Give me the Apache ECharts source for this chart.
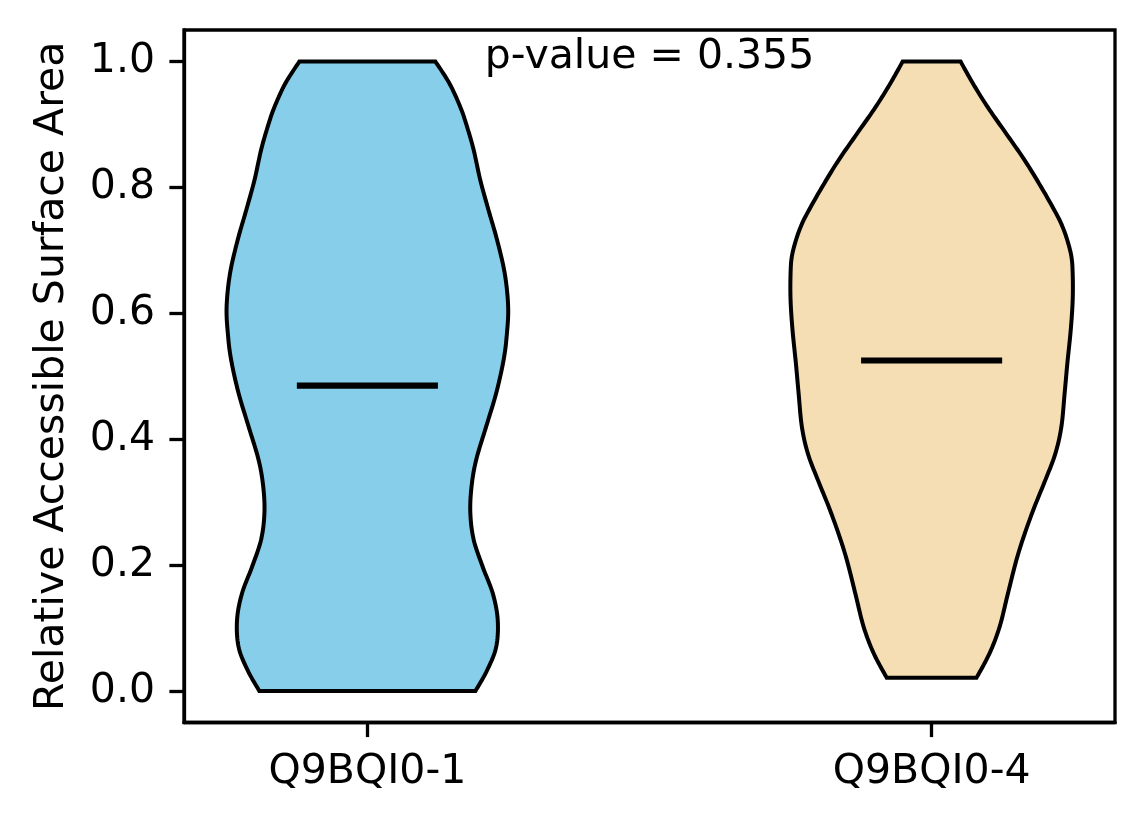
<!DOCTYPE html>
<html>
<head>
<meta charset="utf-8">
<script src="https://cdn.jsdelivr.net/npm/echarts@6/dist/echarts.min.js"></script>
<style>
  html, body { margin: 0; padding: 0; background: #ffffff; }
  #chart { width: 1144px; height: 824px; }
</style>
</head>
<body>
<div id="chart"></div>
<script>
// ---- data ----
const categories = ['Q9BQI0-1', 'Q9BQI0-4'];
const positions = [1, 2];

// Violin 1 (Q9BQI0-1): sample values (bottom to top) and relative density (1 = widest)
const violin1Values  = [0.000, 0.033, 0.070, 0.113, 0.155, 0.197, 0.240, 0.282, 0.324, 0.367, 0.420, 0.473, 0.525, 0.565, 0.610, 0.663, 0.716, 0.763, 0.811, 0.859, 0.896, 0.927, 0.965, 1.000];
const violin1Density = [0.766, 0.849, 0.913, 0.924, 0.889, 0.818, 0.754, 0.730, 0.738, 0.771, 0.842, 0.913, 0.965, 0.988, 0.998, 0.974, 0.920, 0.860, 0.801, 0.754, 0.707, 0.660, 0.582, 0.482];

// Violin 2 (Q9BQI0-4)
const violin2Values  = [0.021, 0.060, 0.102, 0.155, 0.208, 0.250, 0.293, 0.335, 0.377, 0.420, 0.473, 0.520, 0.573, 0.621, 0.663, 0.690, 0.716, 0.738, 0.758, 0.800, 0.843, 0.885, 0.927, 0.965, 1.000];
const violin2Density = [0.318, 0.411, 0.482, 0.541, 0.601, 0.660, 0.730, 0.806, 0.877, 0.920, 0.943, 0.962, 0.986, 1.000, 1.000, 0.991, 0.962, 0.927, 0.884, 0.778, 0.660, 0.530, 0.399, 0.293, 0.205];

const medians = [0.485, 0.525];
const fillColors = ['#87CEEB', '#F5DEB3'];
const yTicks = [0.0, 0.2, 0.4, 0.6, 0.8, 1.0];
const yName = 'Relative Accessible Surface Area';
const pValueLabel = 'p-value = 0.355';

// ---- rendering ----
const FONT = 'DejaVu Sans';
const FS = 41;
const violinHalfWidth = 0.25;

function catmullRom(pts, steps) {
  const out = [];
  const n = pts.length;
  for (let i = 0; i < n - 1; i++) {
    const p0 = pts[Math.max(i - 1, 0)];
    const p1 = pts[i];
    const p2 = pts[i + 1];
    const p3 = pts[Math.min(i + 2, n - 1)];
    for (let s = 0; s < steps; s++) {
      const t = s / steps, t2 = t * t, t3 = t2 * t;
      const f = (a, b, c, d) => 0.5 * ((2 * b) + (-a + c) * t + (2 * a - 5 * b + 4 * c - d) * t2 + (-a + 3 * b - 3 * c + d) * t3);
      out.push([f(p0[0], p1[0], p2[0], p3[0]), f(p0[1], p1[1], p2[1], p3[1])]);
    }
  }
  out.push(pts[n - 1]);
  return out;
}

function makeViolinRender(values, density, pos, median, color) {
  return function (params, api) {
    const left = values.map((v, i) => api.coord([pos - violinHalfWidth * density[i], v]));
    const right = values.map((v, i) => api.coord([pos + violinHalfWidth * density[i], v]));
    const leftSmooth = catmullRom(left, 12);
    const rightSmooth = catmullRom(right, 12).reverse();
    const poly = leftSmooth.concat(rightSmooth);
    const m0 = api.coord([pos - violinHalfWidth / 2, median]);
    const m1 = api.coord([pos + violinHalfWidth / 2, median]);
    return {
      type: 'group',
      children: [
        {
          type: 'polygon',
          shape: { points: poly },
          style: { fill: color, stroke: '#000000', lineWidth: 4, lineJoin: 'miter' }
        },
        {
          type: 'line',
          shape: { x1: m0[0], y1: m0[1], x2: m1[0], y2: m1[1] },
          style: { stroke: '#000000', lineWidth: 6.2 }
        }
      ]
    };
  };
}

const chart = echarts.init(document.getElementById('chart'), null, { renderer: 'canvas' });

const option = {
  animation: false,
  backgroundColor: '#ffffff',
  grid: {
    left: 184, top: 30, width: 931, height: 692.5,
    show: true, borderColor: '#000000', borderWidth: 3.3, backgroundColor: 'transparent'
  },
  xAxis: {
    type: 'value',
    min: 0.675, max: 2.325,
    splitLine: { show: false },
    axisLine: { show: true, onZero: false, lineStyle: { color: '#000000', width: 3.3 } },
    axisTick: { show: true, length: 14.6, lineStyle: { color: '#000000', width: 3.3 }, customValues: positions },
    axisLabel: {
      show: true, margin: 29, color: '#000000', fontFamily: FONT, fontSize: FS,
      customValues: positions,
      formatter: function (v) { const i = positions.indexOf(v); return i >= 0 ? categories[i] : ''; }
    }
  },
  yAxis: {
    type: 'value',
    min: -0.05, max: 1.05,
    splitLine: { show: false },
    axisLine: { show: true, onZero: false, lineStyle: { color: '#000000', width: 3.3 } },
    axisTick: { show: true, length: 14.6, lineStyle: { color: '#000000', width: 3.3 }, customValues: yTicks },
    axisLabel: {
      show: true, margin: 29, color: '#000000', fontFamily: FONT, fontSize: FS,
      customValues: yTicks,
      formatter: function (v) { return v.toFixed(1); }
    },
    name: yName,
    nameLocation: 'middle',
    nameGap: 111,
    nameTextStyle: { color: '#000000', fontFamily: FONT, fontSize: FS }
  },
  series: [
    {
      type: 'custom',
      coordinateSystem: 'cartesian2d',
      data: [[positions[0], medians[0]]],
      renderItem: makeViolinRender(violin1Values, violin1Density, positions[0], medians[0], fillColors[0]),
      silent: true, clip: false, z: 2
    },
    {
      type: 'custom',
      coordinateSystem: 'cartesian2d',
      data: [[positions[1], medians[1]]],
      renderItem: makeViolinRender(violin2Values, violin2Density, positions[1], medians[1], fillColors[1]),
      silent: true, clip: false, z: 2
    },
    {
      type: 'custom',
      coordinateSystem: 'cartesian2d',
      data: [[(positions[0] + positions[1]) / 2, 1.05]],
      renderItem: function (params, api) {
        const p = api.coord([api.value(0), api.value(1)]);
        return {
          type: 'text',
          x: p[0], y: p[1] + 7,
          style: {
            text: pValueLabel, fill: '#000000', font: FS + 'px "' + FONT + '"',
            textAlign: 'center', textVerticalAlign: 'top'
          }
        };
      },
      silent: true, clip: false, z: 5
    }
  ]
};

chart.setOption(option);
</script>
</body>
</html>
